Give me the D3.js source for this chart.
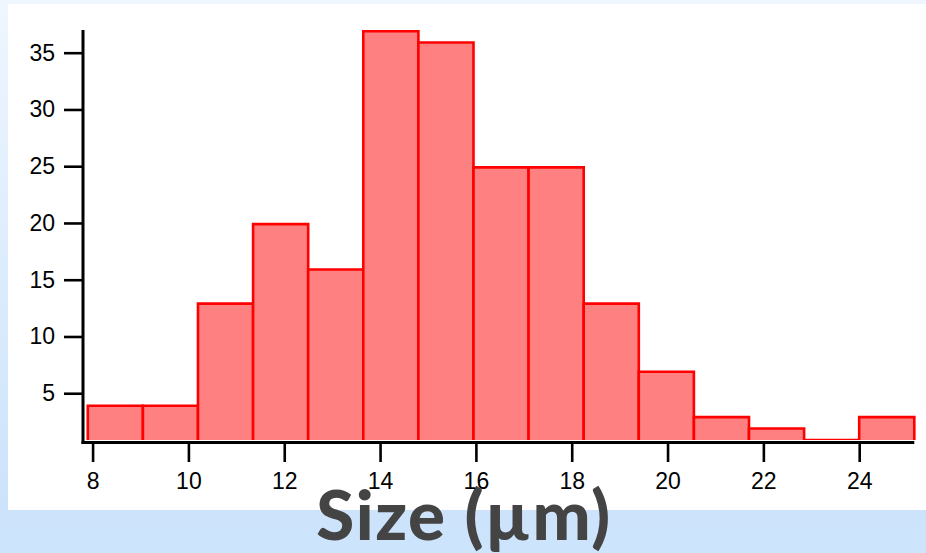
<!DOCTYPE html>
<html>
<head>
<meta charset="utf-8">
<script src="https://cdn.jsdelivr.net/npm/d3@7"></script>
<style>
  html, body { margin: 0; padding: 0; background: #cce4fc; }
  svg { display: block; }
</style>
</head>
<body>
<svg id="chart" width="926" height="553"></svg>
<script>
// Histogram of particle sizes
const binEdges = [7.9, 9.05, 10.2, 11.35, 12.5, 13.65, 14.8, 15.95, 17.1, 18.25, 19.4, 20.55, 21.7, 22.85, 24.0, 25.15];
const counts   = [4, 4, 13, 20, 16, 37, 36, 25, 25, 13, 7, 3, 2, 0, 3];
const xTicks   = [8, 10, 12, 14, 16, 18, 20, 22, 24];
const yTicks   = [5, 10, 15, 20, 25, 30, 35];
const xTitle   = "Size (µm)";

const svg = d3.select("#chart");
const W = 926, H = 553;

// page background: soft blue frame around a white panel
const defs = svg.append("defs");
const grad = defs.append("linearGradient")
  .attr("id", "bg").attr("x1", 0).attr("y1", 0).attr("x2", 0).attr("y2", 1);
grad.append("stop").attr("offset", "0").attr("stop-color", "#eff6fe");
grad.append("stop").attr("offset", "0.92").attr("stop-color", "#cce3fb");
grad.append("stop").attr("offset", "1").attr("stop-color", "#cce4fc");
svg.append("rect").attr("width", W).attr("height", H).attr("fill", "url(#bg)");
svg.append("rect").attr("x", 8).attr("y", 4).attr("width", W - 8).attr("height", 506).attr("fill", "#ffffff");

// plot area
const plot = { left: 83, right: 914.3, top: 30, bottom: 440 };
const x = d3.scaleLinear().domain([7.8, 25.15]).range([plot.left, plot.right]);
const y = d3.scaleLinear().domain([0.88, 37]).range([plot.bottom, plot.top]);

// axis title (sits under the tick labels)
svg.append("text")
  .attr("x", 464).attr("y", 540)
  .attr("text-anchor", "middle")
  .attr("font-family", "Lato, 'Open Sans', sans-serif")
  .attr("font-weight", 900)
  .attr("font-size", 69)
  .attr("letter-spacing", 1.5)
  .attr("fill", "#444444")
  .text(xTitle);

defs.append("clipPath").attr("id", "plotClip")
  .append("rect")
  .attr("x", plot.left).attr("y", 0)
  .attr("width", plot.right - plot.left + 4).attr("height", plot.bottom);

const bins = counts.map((c, i) => ({ x0: binEdges[i], x1: binEdges[i + 1], c }));

// bar outlines sit just inside the bar top
const inset = 1.2;
svg.append("g").attr("clip-path", "url(#plotClip)")
  .selectAll("path.bar").data(bins).join("path")
  .attr("class", "bar")
  .attr("d", d => {
    const top = Math.min(y(d.c) + inset, plot.bottom);
    return `M${x(d.x0)},${plot.bottom}V${top}H${x(d.x1)}V${plot.bottom}`;
  })
  .attr("fill", "#ff8080")
  .attr("stroke", "#ff0000")
  .attr("stroke-width", 2.6);

const fontAxis = "'Liberation Sans', Arial, Helvetica, sans-serif";

// x axis
const gx = svg.append("g").attr("transform", "translate(0,442.5)")
  .call(d3.axisBottom(x).tickValues(xTicks).tickSize(19.5).tickPadding(11).tickFormat(d3.format("d")));
gx.select(".domain").remove();
gx.selectAll(".tick line").attr("stroke", "#000").attr("stroke-width", 2.6);
gx.selectAll(".tick text").attr("font-family", fontAxis).attr("font-size", 23).attr("fill", "#000");

// y axis
const gy = svg.append("g").attr("transform", `translate(${plot.left},0)`)
  .call(d3.axisLeft(y).tickValues(yTicks).tickSize(19).tickPadding(9).tickFormat(d3.format("d")));
gy.select(".domain").remove();
gy.selectAll(".tick line").attr("stroke", "#000").attr("stroke-width", 2.6);
gy.selectAll(".tick text").attr("font-family", fontAxis).attr("font-size", 23).attr("fill", "#000");

// axis lines
svg.append("line")
  .attr("x1", plot.left).attr("x2", plot.left)
  .attr("y1", plot.top).attr("y2", 444)
  .attr("stroke", "#000").attr("stroke-width", 3);
svg.append("line")
  .attr("x1", plot.left - 1.5).attr("x2", plot.right)
  .attr("y1", 442.5).attr("y2", 442.5)
  .attr("stroke", "#000").attr("stroke-width", 3);
</script>
</body>
</html>
